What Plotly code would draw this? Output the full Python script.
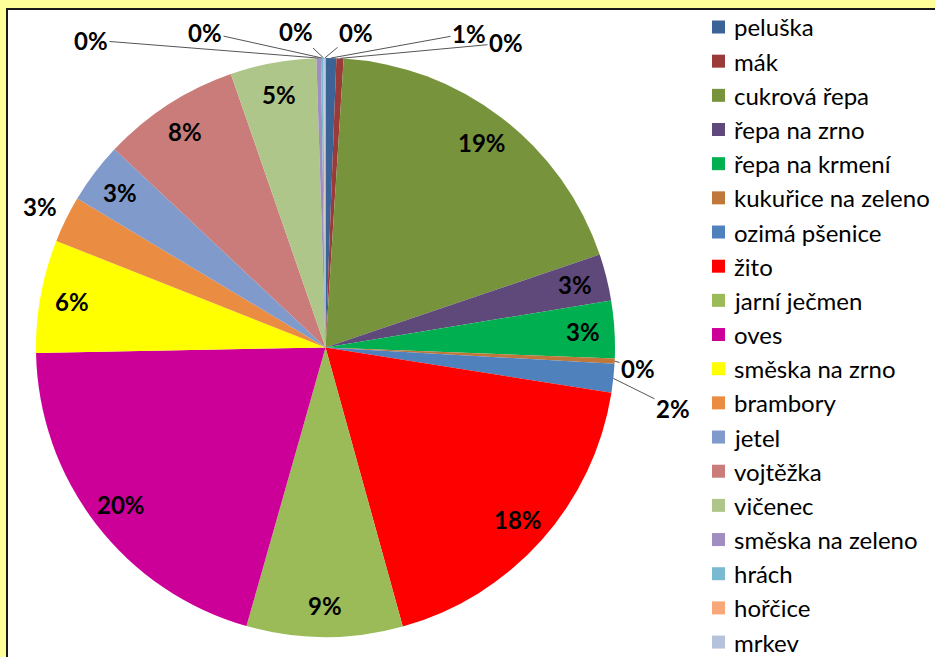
import math
import plotly.graph_objects as go

# ---- data ----
labels = ["peluška", "mák", "cukrová řepa", "řepa na zrno", "řepa na krmení",
          "kukuřice na zeleno", "ozimá pšenice", "žito", "jarní ječmen", "oves",
          "směska na zrno", "brambory", "jetel", "vojtěžka", "vičenec",
          "směska na zeleno", "hrách", "hořčice", "mrkev"]
values = [0.6, 0.4, 18.8, 2.6, 3.2,
          0.3, 1.6, 18.2, 8.7, 20.3,
          6.3, 2.6, 3.4, 7.7, 4.8,
          0.25, 0.12, 0.05, 0.08]

# ---- style ----
colors = ["#3B6396", "#9A3B39", "#77933C", "#5F497A", "#00B050",
          "#C0773A", "#4F81BD", "#FF0000", "#9BBB59", "#CC0099",
          "#FFFF00", "#EB8C43", "#7F9ACB", "#C97C7A", "#AFC68A",
          "#9F8EBF", "#7ABAD0", "#F8A878", "#B4C2DC"]

W, H = 935, 657
CX, CY, R = 325.5, 347.5, 289.5
FONT = "Lato"
LBL_SIZE = 24
LEG_SIZE = 24


def px(x):
    return x / W


def py(y):
    return 1 - y / H


# label placement: ("in", radius factor) or ("out", text centre px)
placement = {
    0: ("out", (469, 33)), 1: ("out", (506, 43)), 5: ("out", (638, 368)),
    6: ("out", (673, 408)), 11: ("free", 1.1),
    15: ("out", (91, 40)), 16: ("out", (205, 32)), 17: ("out", (296, 32)),
    18: ("out", (356, 32)),
}

fig = go.Figure(go.Pie(
    labels=labels, values=values, sort=False, direction="clockwise", rotation=0,
    marker=dict(colors=colors, line=dict(width=0)),
    textinfo="none", showlegend=False, hoverinfo="label+percent",
    domain=dict(x=[px(CX - R), px(CX + R)], y=[py(CY + R), py(CY - R)]),
))

total = sum(values)
annotations = []
cum = 0.0
for i, v in enumerate(values):
    mid = math.radians((cum + v / 2) / total * 360)
    cum += v
    txt = "<b>%d%%</b>" % round(v / total * 100)
    kind, par = placement.get(i, ("in", 0.89))
    if kind in ("in", "free"):
        x = CX + par * R * math.sin(mid)
        y = CY - par * R * math.cos(mid)
        annotations.append(dict(x=px(x), y=py(y), xref="paper", yref="paper",
                                xanchor="center", yanchor="middle",
                                text=txt, showarrow=False,
                                font=dict(family=FONT, size=LBL_SIZE, color="black")))
    else:
        ex = CX + R * math.sin(mid)
        ey = CY - R * math.cos(mid)
        tx, ty = par
        annotations.append(dict(x=px(ex), y=py(ey), xref="paper", yref="paper",
                                ax=tx - ex, ay=ty - ey, text=txt, showarrow=True,
                                arrowhead=0, arrowwidth=1, arrowcolor="#555555",
                                standoff=0,
                                font=dict(family=FONT, size=LBL_SIZE, color="black")))

# manual legend
shapes = [dict(type="rect", xref="paper", yref="paper",
               x0=px(7), x1=px(990), y0=py(720), y1=py(9),
               fillcolor="white", line=dict(color="#1a1a1a", width=2),
               layer="below")]
LEG_X, LEG_Y0, LEG_DY = 712, 27, 34.17
for i, (lab, c) in enumerate(zip(labels, colors)):
    yc = LEG_Y0 + i * LEG_DY
    shapes.append(dict(type="rect", xref="paper", yref="paper",
                       x0=px(LEG_X), x1=px(LEG_X + 13),
                       y0=py(yc + 6.5), y1=py(yc - 6.5),
                       fillcolor=c, line=dict(width=0), layer="above"))
    annotations.append(dict(x=px(LEG_X + 20), y=py(yc), xref="paper", yref="paper",
                            xanchor="left", yanchor="middle", text=lab,
                            showarrow=False,
                            font=dict(family=FONT, size=LEG_SIZE, color="black")))

fig.update_layout(
    width=W, height=H, margin=dict(l=0, r=0, t=0, b=0),
    paper_bgcolor="#FFFF99", plot_bgcolor="white",
    shapes=shapes, annotations=annotations,
)

fig.write_html("out.html",
               config={"displayModeBar": False},
               post_script="document.body.style.margin='0';"
                           "document.body.style.overflow='hidden';")
